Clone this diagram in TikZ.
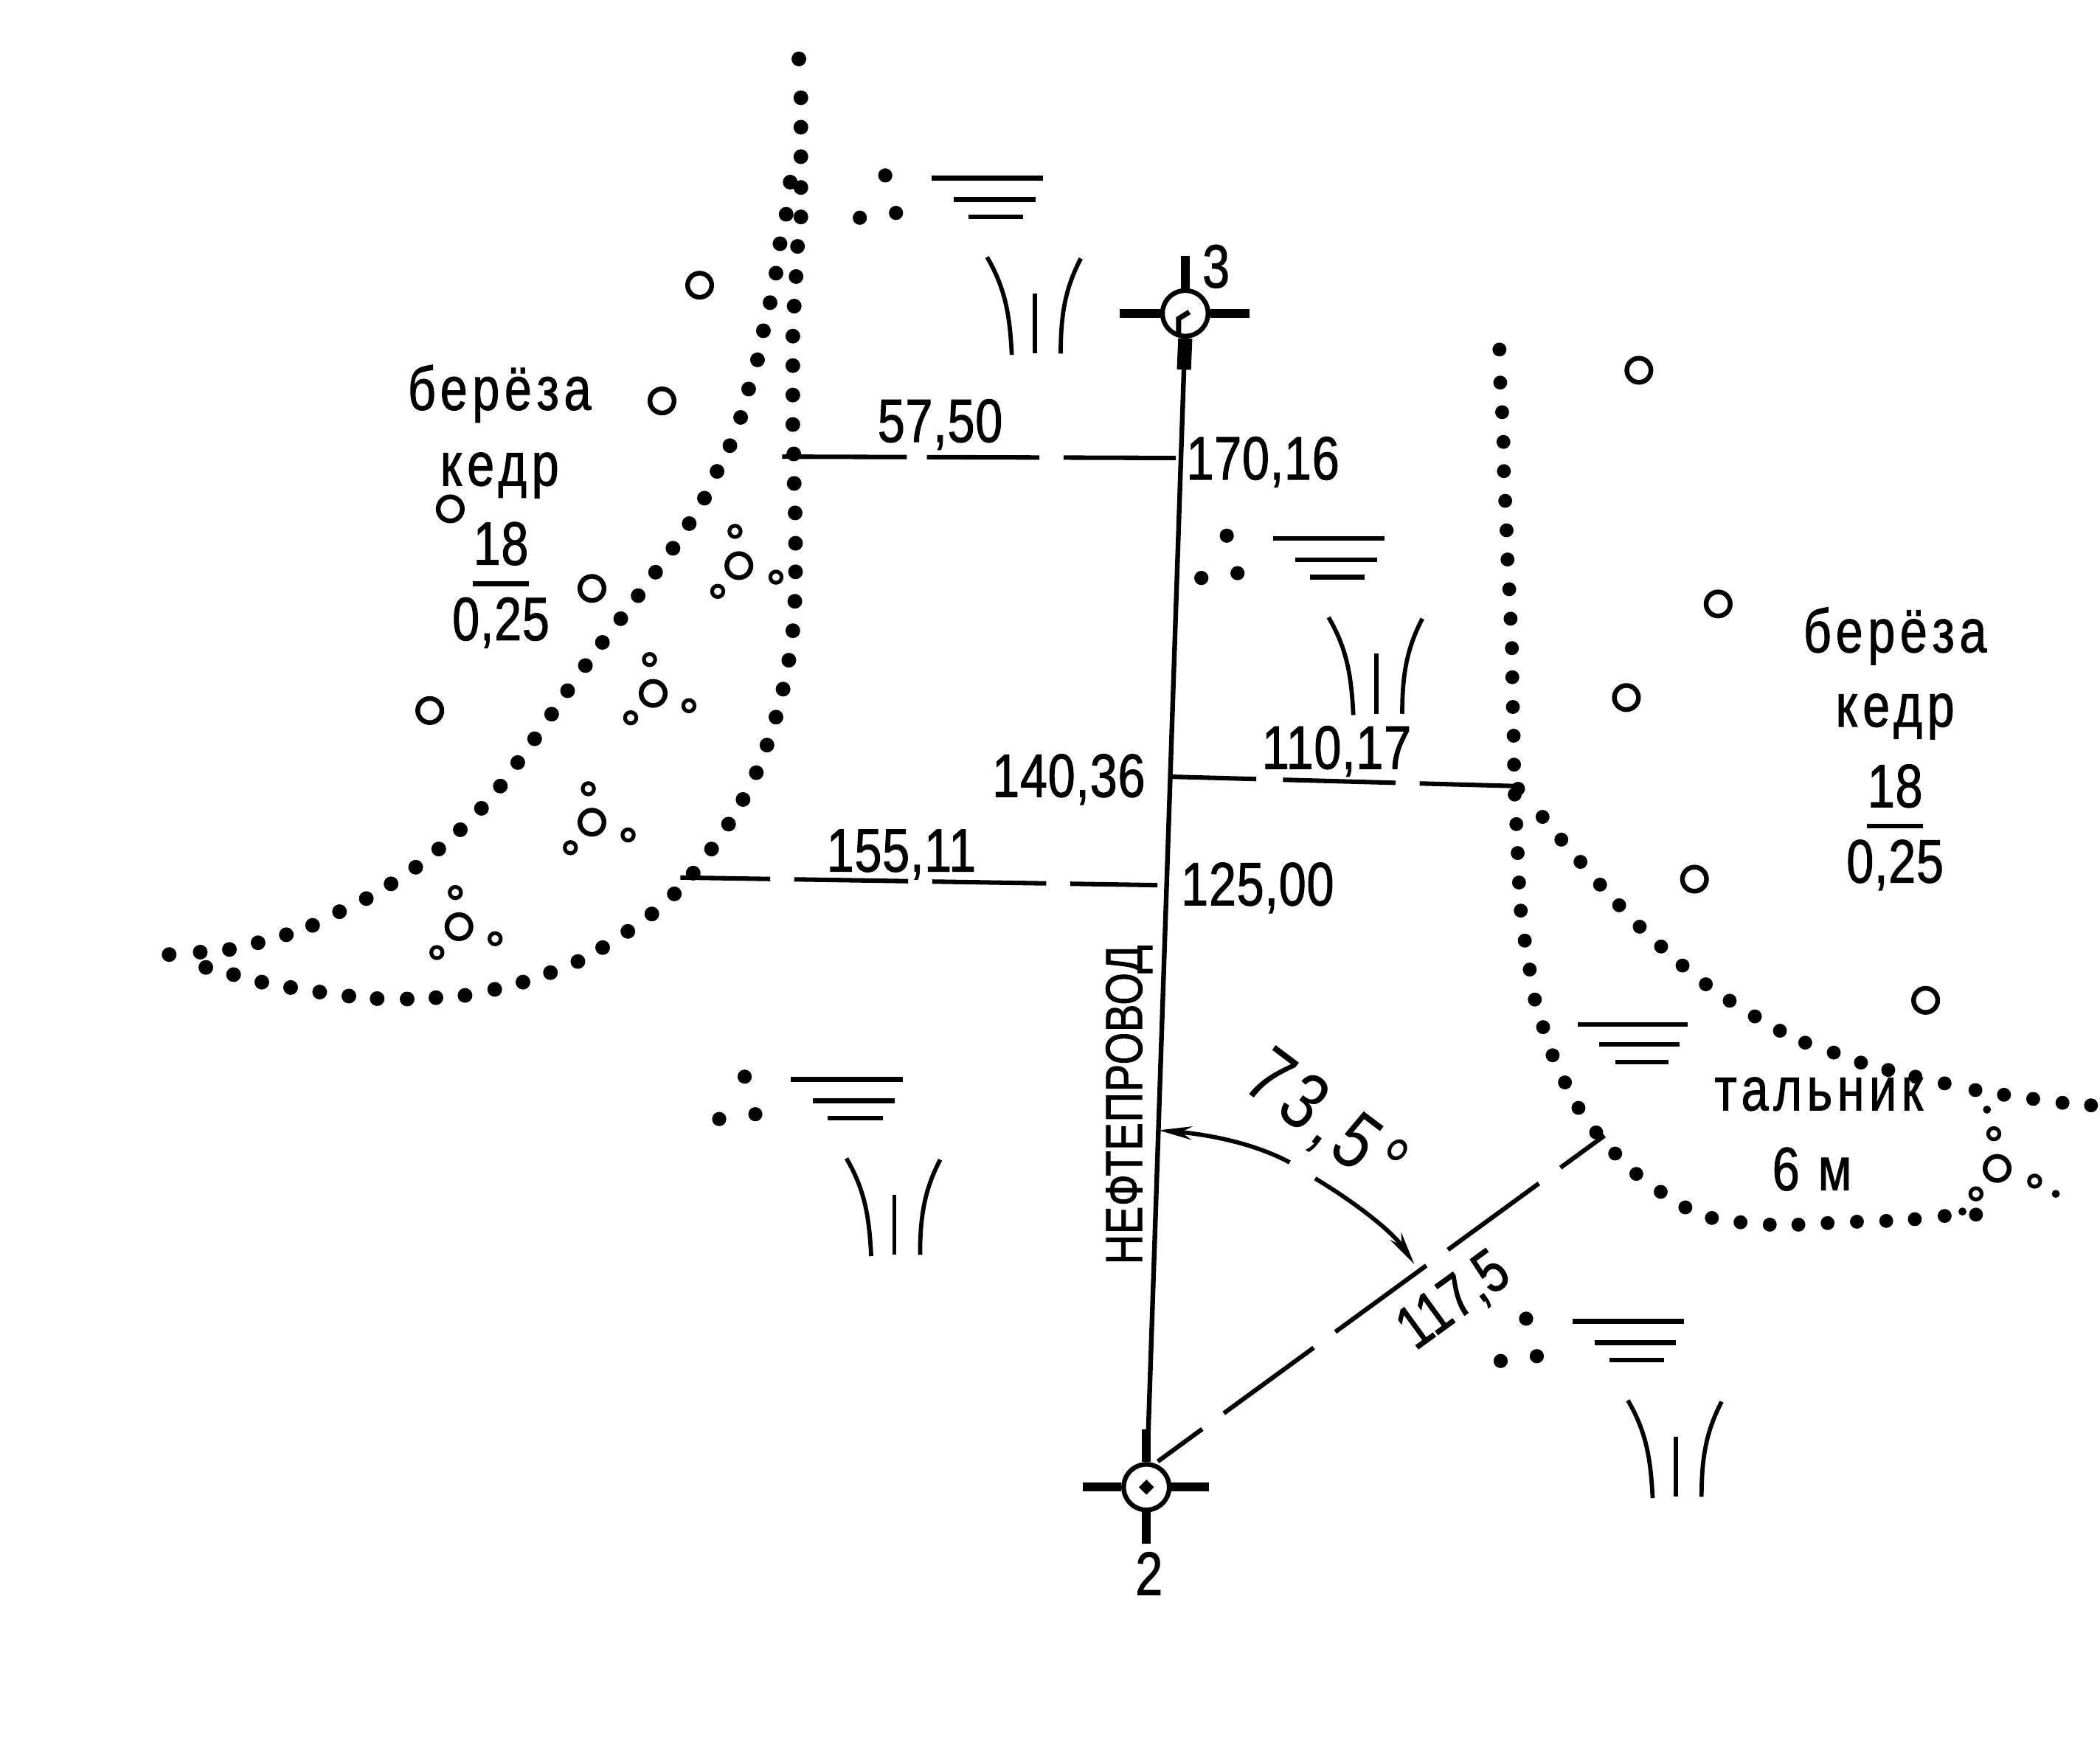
\documentclass[tikz,border=0pt]{standalone}
\usepackage{fontspec}
\setmainfont[FakeStretch=0.8,LetterSpace=1,FakeBold=1.2]{Liberation Sans}
\newfontfamily\wordfont[FakeStretch=0.8,LetterSpace=8,FakeBold=1.2]{Liberation Sans}
\newfontfamily\anglefont[FakeStretch=0.8,LetterSpace=8]{Liberation Sans}
\usetikzlibrary{arrows.meta}

\tikzset{
  lbl/.style={inner sep=0pt, font=\fontsize{13}{15}\selectfont},
  word/.style={inner sep=0pt, font=\wordfont\fontsize{13}{15}\selectfont},
  station/.style={draw, circle, line width=1pt, minimum size=3.4mm, inner sep=0pt},
  stub/.style={line width=1.9pt},
  measure/.style={line width=0.95pt},
  treemark/.style={line width=1pt},
  sapling/.style={line width=0.8pt},
  swamp/.pic={
    \fill (0,0) circle (5.3);
    \fill (-19,31.6) circle (5.3);
    \fill (8,28) circle (5.3);
    \draw[line width=1pt] (34.5,2) -- (118,2);
    \draw[line width=1pt] (51,18) -- (112,18);
    \draw[line width=1pt] (62,31) -- (103,31);
    \draw[line width=0.9pt] (76,61) .. controls (90,85) and (93,105) .. (94.5,134);
    \draw[line width=0.9pt] (111.8,88) -- (111.8,133);
    \draw[line width=0.9pt] (146,62) .. controls (134,85) and (131,105) .. (131,133);
  }
}

\begin{document}
\begin{tikzpicture}[x=0.01cm, y=-0.01cm]

  \useasboundingbox (0,0) rectangle (1568,1305.3);

  % stations and the pipeline
  \node[station] (st3) at (885,234) {};
  \node[station] (st2) at (856,1110.5) {};
  \fill[rotate around={45:(856,1110.5)}] (852,1106.5) rectangle (860,1114.5);

  \draw[stub] (st3.north) -- ++(0,-24);
  \draw[stub] (st3.west) -- ++(-30,0);
  \draw[stub] (st3.east) -- ++(29,0);
  \draw[line width=3pt] (st3.south) -- (884,276);
  \draw[line width=1.1pt] (880,250) -- (880,238) -- (888,233);

  \draw[stub] (st2.north) -- ++(0,-24.5);
  \draw[stub] (st2.west) -- ++(-29,0);
  \draw[stub] (st2.east) -- ++(28,0);
  \draw[stub] (st2.south) -- ++(0,23.5);

  \draw[line width=1pt, shorten >=2.5mm] (884,276) -- (st2.center);

  \node[lbl] (num3) at (908,199) {3};
  \node[lbl] (num2) at (858,1175) {2};
  \node[lbl, rotate=90, font=\fontsize{11}{13}\selectfont] (pipe) at (843,825) {НЕФТЕПРОВОД};

  % offsets
  \coordinate (a1) at (584,341);
  \coordinate (a2) at (878,342);
  \coordinate (b1) at (874,580);
  \coordinate (b2) at (1132,587);
  \coordinate (c1) at (508,655.3);
  \coordinate (c2) at (865,661);
  \coordinate (d1) at (864.5,1091.3);
  \coordinate (d2) at (1198,848);

  \draw[measure, dash pattern=on .93cm off .15cm on .84cm off .18cm on .84cm] (a1) -- (a2);
  \draw[measure, dash pattern=on .64cm off .20cm on .84cm off .18cm on .72cm] (b1) -- (b2);
  \draw[measure, dash pattern=on .67cm off .18cm on .85cm off .18cm on .85cm off .18cm on .65cm] (c1) -- (c2);
  \draw[measure, dash pattern=on .41cm off .20cm on .83cm off .20cm on .84cm off .20cm on .84cm off .20cm on .41cm] (d1) -- (d2);

  \node[lbl] (val1) at (702,317) {57,50};
  \node[lbl] (val2) at (943,345) {170,16};
  \node[lbl] (val3) at (798,582) {140,36};
  \node[lbl] (val4) at (998,561) {110,17};
  \node[lbl] (val5) at (673,638) {155,11};
  \node[lbl] (val6) at (939,663) {125,00};
  \node[lbl, rotate=36] (val7) at (1086,972) {117,5};

  % angle
  \coordinate (e1) at (865,844);
  \coordinate (e2) at (963,868);
  \coordinate (e3) at (982,880);
  \coordinate (e4) at (1056,944);
  \draw[line width=0.9pt, {Stealth[length=2.5mm,width=1mm]}-] (e1) .. controls (900,847) and (935,853) .. (e2);
  \draw[line width=0.9pt, -{Stealth[length=2.5mm,width=1mm]}] (e3) .. controls (1012,898) and (1040,920) .. (e4);
  \node[lbl, rotate=-37, font=\anglefont\fontsize{17}{20}\selectfont] (ang) at (989,838) {73,5°};

  % left wood
  \foreach \x/\y in {596.5/44,598/73,598/95,598/117,590/136,598/140,587/160,598/162,582.4/182,595.5/184,
    579.4/204,594.4/206.5,575/226,593/228.6,570/247,592/251,565.6/268.7,592/273,559/290.5,592/295,
    553/311.7,592/317,545/332.8,592.7/339,535.4/352,593/361,526/372,593.7/383,514.6/391,594/405.7,
    502.5/409.4,594/427,489.5/427.3,593.5/449,476.5/444.8,592/471,463.5/462,589/493,449.8/479.7,584.7/514.6,
    437.1/497,579.4/535.5,423.8/515.8,572.7/556.4,411.9/533.3,564.7/577,399.2/551.7,554.8/597,386.6/569.4,544/615.4,
    373.6/587,531.3/634,359.5/603.6,517.6/652,343.7/619.6,503.5/667.5,327.6/634,486.7/682.5,310.4/647.6,468.8/695.5,
    292/660,450/707.6,273.5/671,431.5/718,253.5/680.8,411/726.3,233.4/691,390.5/733.4,213.8/698,369.4/738.8,
    192.7/704,347.2/743.3,171.3/709,325.5/745,149.5/711,304/746,126.3/712.8,281.6/745.7,260.5/743.8,238.7/740.8,
    217/737.4,195.5/733.4,174.4/727.8,153.7/722.4}
    \fill (\x,\y) circle (5.5);

  \foreach \x/\y in {522.4/213,494.3/299.4,336.2/380,442/439.4,320.9/530.6,551.7/422.4,487.7/517.8,442/614,342.7/692}
    \draw[treemark] (\x,\y) circle (9);
  \foreach \x/\y in {548.8/396.8,579.4/431,535.9/441.6,485/492.5,514.4/527,470.9/536,439.3/589,469/623.5,425.9/633,
    340/666.5,369.7/701,326.2/711.3}
    \draw[sapling] (\x,\y) circle (4.2);

  \node[word] (birch1) at (373,294) {берёза};
  \node[word] (cedar1) at (373,355) {кедр};
  \node[lbl] (high1) at (374,406) {18};
  \node[lbl] (thick1) at (374,465) {0,25};
  \draw[line width=1pt] (353,436) -- (395,436);

  % right wood
  \foreach \x/\y in {1119.6/261,1120.2/285.7,1121.6/307.8,1122.6/330,1122.9/351.8,1123.9/374,1124.9/396,1125.6/417.8,
    1126.9/440,1127.9/462,1128.9/484,1129.2/505.7,1129.6/527.9,1130.2/549.4,1130.5/571,1133.5/589,1131/593.3,
    1132.2/615.4,1133.2/637,1134.2/659,1135.5/680,1138.5/702.4,1142.2/724,1146/746.4,1152.2/767,1159.3/788,
    1168.5/808.3,1178.6/827.3,1191.8/845.6,1206/861.4,1221.8/876.6,1240/890,1258.4/901.6,1278.2/909.5,1299.6/912.7,
    1321.4/914.5,1342.8/914.5,1364.6/913.3,1386.5/912.3,1408.4/911.7,1429.7/910.4,1452/908,1475.4/907,
    1151.8/610,1165.8/627,1180.1/643.6,1194.7/660.6,1209/676,1224.3/692,1240.3/706.8,1256.3/721,1273.7/735,
    1291.5/747.3,1310.3/759,1329/769.7,1347.9/778.6,1369.2/786,1389.5/793.5,1409.9/799,1430.2/804,1452/809,
    1475/814,1496.3/817.5,1518.1/820.6,1540/823.5,1561.3/825.4}
    \fill (\x,\y) circle (5.2);
  \fill (1465.3,904.7) circle (3);
  \fill (1483.6,828.6) circle (3);
  \fill (1535,891.5) circle (3);

  \foreach \x/\y in {1223.7/276.5,1282.9/451,1214.4/520.9,1265.2/656.5,1437.8/747,1491.2/872.5}
    \draw[treemark] (\x,\y) circle (9);
  \foreach \x/\y in {1488.7/846.6,1519.2/882,1475.4/891.5}
    \draw[sapling] (\x,\y) circle (4.2);

  \node[word] (birch2) at (1415,475) {берёза};
  \node[word] (cedar2) at (1415,535) {кедр};
  \node[lbl] (high2) at (1415,587) {18};
  \node[lbl] (thick2) at (1415,646) {0,25};
  \draw[line width=1pt] (1394,617) -- (1436,617);

  \node[word] (willow) at (1358,817) {тальник};
  \node[word] (willowh) at (1353,873) {6 м};

  % swamp marks
  \pic at (661,131) {swamp};
  \pic at (916,400) {swamp};
  \pic at (556,804) {swamp};
  \pic at (1139.5,984.7) {swamp};
  \draw[line width=1pt] (1178,765) -- (1260,765);
  \draw[line width=1pt] (1194,780) -- (1254,780);
  \draw[line width=1pt] (1206,793) -- (1246,793);

\end{tikzpicture}
\end{document}
